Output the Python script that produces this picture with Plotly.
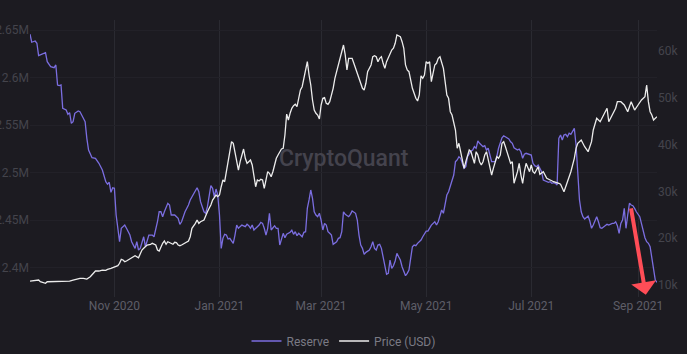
import pandas as pd
import plotly.graph_objects as go

start_date = "2020-09-13"

reserve_day = [0,1,3,4,5,7,9,10,12,14,15,16,17,18,19,21,22,23,24,25,26,28,29,30,32,33,34,36,38,40,42,44,45,46,47,48,49,50,52,53,55,56,58,59,61,62,63,64,65,66,67,68,69,71,72,74,75,76,77,78,80,81,82,84,86,87,88,90,92,93,94,96,97,98,99,101,102,103,104,105,106,107,108,109,110,111,112,113,114,115,116,118,119,120,121,122,123,125,126,127,128,129,130,132,133,134,135,136,137,138,139,140,141,142,143,144,145,146,147,148,149,151,152,153,154,155,156,158,159,160,161,162,163,164,165,166,167,168,169,170,171,172,173,174,175,176,178,179,180,181,182,183,184,185,186,187,189,190,191,192,193,194,195,197,198,199,200,201,202,203,204,205,206,207,208,209,210,211,212,213,214,215,216,218,219,220,221,222,223,224,225,227,228,229,230,231,232,233,235,236,237,238,239,240,241,242,243,244,245,246,247,248,249,250,251,252,253,254,256,257,258,259,260,261,263,264,265,266,267,268,270,271,272,273,274,275,277,278,279,280,281,283,284,285,286,287,288,290,291,292,293,294,295,296,297,298,300,301,302,303,304,305,306,307,308,309,310,311,312,313,314,316,317,318,319,320,321,322,323,324,325,326,327,328,329,330,331,332,333,334,335,336,338,339,340,341,342,343,344,345,346,347,348,349,350,351,352,354,355,356,357,358,359,360,361,362,363,364]
reserve_m = [2.6457,2.6373,2.6386,2.6362,2.6232,2.6246,2.6263,2.6168,2.6116,2.6105,2.6134,2.5923,2.5916,2.5923,2.5678,2.566,2.5615,2.5632,2.552,2.5537,2.5625,2.565,2.5642,2.5607,2.5537,2.5362,2.5239,2.5158,2.5152,2.5099,2.5028,2.4905,2.4878,2.4899,2.4794,2.4842,2.4836,2.4555,2.4274,2.4415,2.4449,2.4415,2.4344,2.4274,2.4204,2.4274,2.4186,2.4204,2.4274,2.4326,2.4221,2.4274,2.4344,2.4344,2.4326,2.4484,2.4589,2.4589,2.4537,2.4589,2.4678,2.466,2.4555,2.4555,2.452,2.4457,2.4484,2.4589,2.466,2.4713,2.4747,2.48,2.4842,2.48,2.4695,2.4589,2.4573,2.4642,2.4747,2.4863,2.4836,2.4747,2.4828,2.4765,2.4555,2.4204,2.4309,2.4352,2.4344,2.4302,2.4309,2.4257,2.4344,2.4449,2.4415,2.4432,2.4449,2.4432,2.4457,2.4442,2.4415,2.4449,2.4397,2.4432,2.4449,2.4478,2.4467,2.4415,2.4344,2.4415,2.4573,2.4397,2.4415,2.4442,2.4415,2.4415,2.4239,2.4309,2.4362,2.4316,2.4352,2.4373,2.4394,2.4352,2.4379,2.4337,2.4362,2.4326,2.4373,2.4379,2.4625,2.4713,2.4818,2.4731,2.4589,2.4555,2.4537,2.4573,2.4502,2.4397,2.4467,2.4449,2.4379,2.4362,2.4344,2.4246,2.4274,2.4309,2.4316,2.4379,2.4589,2.4562,2.4547,2.4537,2.4562,2.4597,2.4573,2.4502,2.4344,2.4239,2.4204,2.4141,2.4162,2.4186,2.4221,2.4274,2.4204,2.4186,2.4239,2.4246,2.4204,2.4099,2.3994,2.3931,2.3941,2.4081,2.3994,2.4021,2.4071,2.4152,2.4116,2.4081,2.4011,2.3916,2.3941,2.3976,2.4099,2.4221,2.4239,2.4232,2.4257,2.4292,2.4326,2.4362,2.4386,2.4386,2.4415,2.4449,2.4484,2.4449,2.4484,2.4537,2.4607,2.4573,2.466,2.4765,2.48,2.4853,2.4923,2.4976,2.5116,2.5134,2.5168,2.5152,2.5099,2.5046,2.5063,2.5168,2.5228,2.5239,2.5274,2.5257,2.5334,2.5309,2.5274,2.5284,2.5239,2.5257,2.5186,2.5116,2.5116,2.5168,2.5257,2.5309,2.5368,2.5389,2.5362,2.5355,2.5326,2.5309,2.5263,2.5239,2.5249,2.5221,2.5152,2.5194,2.5204,2.5194,2.5186,2.5099,2.5074,2.5063,2.5081,2.5046,2.5011,2.4923,2.4905,2.4899,2.4905,2.4888,2.4895,2.4888,2.4871,2.5362,2.5397,2.5344,2.5397,2.5404,2.5379,2.5415,2.5404,2.5467,2.5292,2.4976,2.4713,2.4589,2.4537,2.4513,2.4526,2.4544,2.4492,2.4415,2.4449,2.4492,2.4537,2.4484,2.4421,2.4415,2.4432,2.4449,2.4457,2.4449,2.4467,2.4467,2.4484,2.4442,2.4362,2.4467,2.4502,2.4625,2.4415,2.4555,2.4678,2.466,2.4653,2.4625,2.4589,2.4537,2.4467,2.4379,2.4316,2.4274,2.4257,2.4221,2.4099,2.3958,2.387,2.3845]

price_day = [0,3,5,6,8,9,10,12,14,16,17,19,21,23,25,27,29,31,33,35,37,38,40,42,44,45,47,48,49,51,52,53,54,55,56,57,59,60,61,63,64,65,66,67,68,70,71,73,74,75,76,77,78,79,80,82,83,84,85,86,87,88,90,91,92,93,94,96,97,98,99,101,102,103,104,105,106,108,109,110,111,112,113,114,115,116,117,118,119,120,121,122,123,124,125,126,127,128,129,130,131,132,133,134,135,136,137,138,139,140,141,142,143,144,145,146,147,148,149,150,151,152,153,154,155,156,157,158,159,160,161,162,163,164,165,166,167,168,169,170,171,172,173,174,175,176,177,178,179,180,181,182,183,184,185,186,187,188,190,191,192,193,194,195,196,197,198,199,200,201,202,203,204,205,206,207,208,209,210,211,212,213,214,215,216,217,218,219,220,221,222,223,224,225,226,227,228,229,230,231,232,233,234,235,236,237,238,239,240,241,242,243,244,245,246,247,248,249,250,251,252,253,254,255,256,257,258,259,260,261,262,263,264,265,266,267,268,269,270,271,272,273,274,275,276,277,278,279,280,281,283,284,285,286,287,288,290,291,292,293,295,296,298,299,300,302,304,307,308,310,312,314,316,317,318,320,322,324,326,327,329,331,333,335,336,338,340,341,343,345,347,349,351,353,355,357,358,359,360,361,362,364]
price_k = [10.85,11.0,11.07,10.7,10.49,10.36,10.7,10.7,10.85,10.7,10.85,10.7,10.7,10.85,11.07,11.28,11.43,11.43,11.28,11.77,12.5,12.99,12.99,13.2,13.14,13.35,13.57,13.7,13.91,14.12,14.64,15.49,15.34,14.98,15.13,15.34,15.71,16.05,16.26,15.83,16.77,17.48,17.84,18.18,18.55,18.7,18.91,18.55,17.48,17.26,18.18,18.91,19.4,18.7,19.25,18.91,18.7,19.12,19.04,18.55,18.4,18.55,18.91,19.25,19.4,20.32,22.12,23.18,23.89,23.18,23.53,23.89,24.96,25.66,26.39,27.09,28.16,29.23,28.87,29.23,31.0,32.44,32.07,34.21,36.35,37.78,40.62,40.28,38.48,36.35,34.57,36.35,37.78,39.06,37.07,36.0,36.35,36.71,35.64,33.5,31.0,32.44,32.22,32.59,32.44,30.66,32.8,34.21,33.87,33.14,34.21,35.64,37.07,37.78,38.48,39.06,39.21,42.05,46.5,45.26,46.69,47.76,48.31,48.61,48.1,49.89,51.67,52.37,54.17,56.3,57.71,54.87,52.74,49.53,47.39,46.69,46.32,45.47,48.46,49.89,50.02,48.82,48.61,49.17,50.6,52.03,54.17,55.58,57.37,58.44,59.85,61.28,59.15,55.94,58.44,58.5,58.44,57.37,55.24,54.17,53.44,52.03,51.67,53.1,55.58,56.3,57.01,58.78,59.0,58.78,57.71,58.44,58.78,57.37,56.3,57.71,58.44,59.51,60.21,60.58,61.64,63.42,63.27,63.06,61.99,60.58,57.01,55.94,55.58,53.44,52.03,50.96,49.89,49.32,50.6,54.7,54.17,54.87,57.71,57.37,57.71,53.44,55.24,57.01,57.37,58.44,58.78,57.71,56.3,53.44,50.6,49.89,47.03,46.32,44.89,43.12,39.21,40.28,38.48,36.9,34.93,36.35,37.78,38.85,38.48,37.07,36.0,38.48,37.78,36.35,35.64,36.35,37.78,38.48,36.71,35.64,33.5,34.93,36.35,37.41,37.07,37.78,40.28,40.62,39.55,38.48,37.07,36.0,36.35,31.73,34.21,36.0,33.5,31.73,34.21,36.0,34.21,35.64,34.21,33.87,35.28,33.65,34.21,33.5,32.8,32.44,32.07,31.73,31.52,29.94,32.07,34.21,37.07,39.21,40.28,40.98,39.55,38.48,40.62,43.12,45.62,44.89,46.32,47.76,44.89,46.32,47.76,49.17,49.17,48.46,47.03,49.17,47.39,48.46,49.53,50.24,52.74,49.17,47.03,46.32,45.26,45.96]

left_ticks = [2.4, 2.45, 2.5, 2.55, 2.6, 2.65]
left_labels = ["2.4M", "2.45M", "2.5M", "2.55M", "2.6M", "2.65M"]
right_ticks = [10, 20, 30, 40, 50, 60]
right_labels = ["10k", "20k", "30k", "40k", "50k", "60k"]

t0 = pd.Timestamp(start_date)
reserve_dates = [t0 + pd.Timedelta(days=d) for d in reserve_day]
price_dates = [t0 + pd.Timedelta(days=d) for d in price_day]

BG = "#1c1b21"
fig = go.Figure()
fig.add_trace(go.Scatter(x=reserve_dates, y=reserve_m, name="Reserve", mode="lines",
                         line=dict(color="#7b6ee0", width=1.3), yaxis="y"))
fig.add_trace(go.Scatter(x=price_dates, y=price_k, name="Price (USD)", mode="lines",
                         line=dict(color="#ececec", width=1.3), yaxis="y2"))

fig.add_annotation(text="CryptoQuant", xref="paper", yref="paper", x=0.5, y=0.5,
                   showarrow=False, font=dict(family="Roboto", size=23, color="#44434d", weight=500))

fig.add_annotation(x=t0 + pd.Timedelta(days=357.5), y=2.3715, xref="x", yref="y",
                   ax=-15, ay=-88, axref="pixel", ayref="pixel", text="",
                   showarrow=True, arrowhead=1, arrowsize=1.05, arrowwidth=4,
                   arrowcolor="#ff4d57", standoff=0)

fig.update_layout(
    width=687, height=354,
    margin=dict(l=30, r=30, t=20, b=57),
    paper_bgcolor=BG, plot_bgcolor=BG,
    font=dict(family="Roboto", size=12, color="#5e5e68"),
    showlegend=True,
    legend=dict(orientation="h", x=0.5, xanchor="center", xref="container",
                y=13 / 354, yanchor="middle", yref="container",
                font=dict(size=12, color="#7a7a84"), itemwidth=30, bgcolor="rgba(0,0,0,0)"),
    xaxis=dict(type="date", range=[t0, t0 + pd.Timedelta(days=364)],
               tick0="2020-11-01", dtick="M2", tickformat="%b %Y",
               showgrid=True, gridcolor="#2a2a31", gridwidth=1, zeroline=False,
               showline=False, ticks="", tickfont=dict(size=12, color="#5e5e68"), automargin=False),
    yaxis=dict(range=[2.3692, 2.6607], tickvals=left_ticks, ticktext=left_labels,
               showgrid=True, gridcolor="#222128", zeroline=False, showline=False,
               ticks="", tickfont=dict(size=12, color="#44444c"), automargin=False),
    yaxis2=dict(range=[7.44, 66.62], tickvals=right_ticks, ticktext=right_labels,
                overlaying="y", side="right", showgrid=False, zeroline=False,
                showline=False, ticks="", tickfont=dict(size=12, color="#44444c"), automargin=False),
)

fig.write_html("out.html")
